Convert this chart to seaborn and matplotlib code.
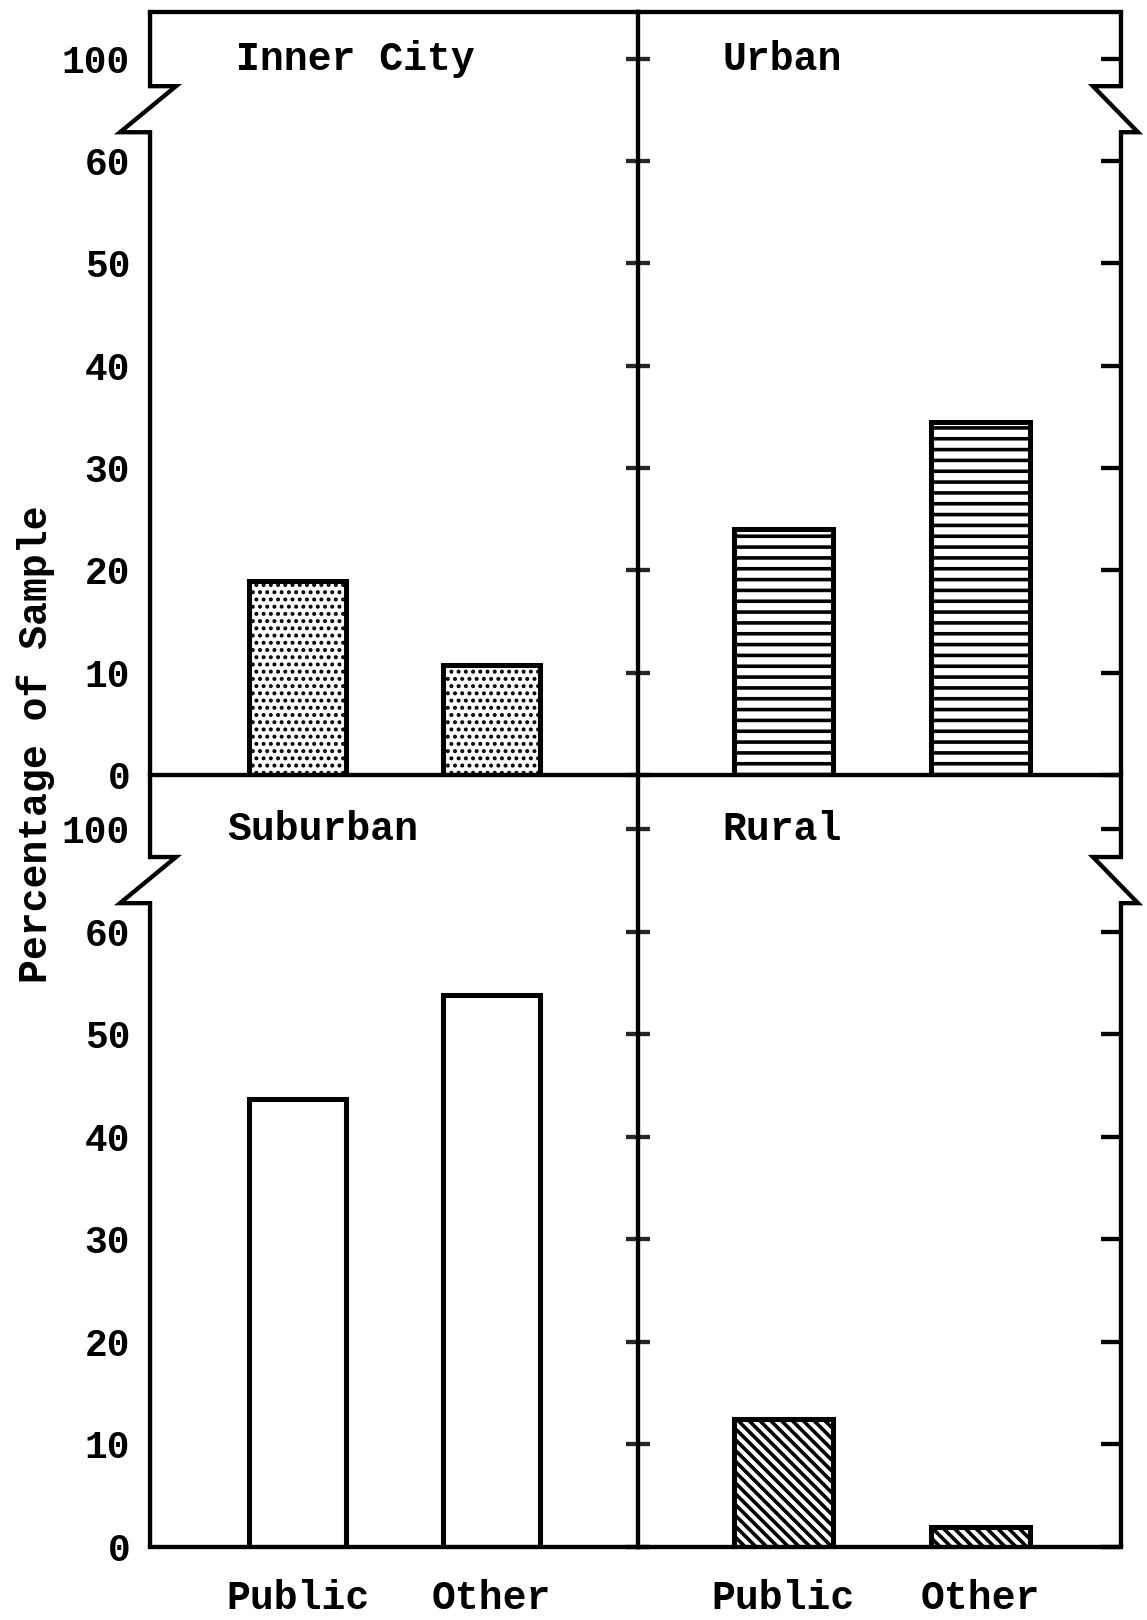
# Import libraries
import pandas as pd
import matplotlib.pyplot as plt
import seaborn as sns
from matplotlib.transforms import blended_transform_factory

# Percentage of sample by type of school, per area
categories = ['Public', 'Other']
inner_city = [19.0, 10.7]
urban = [24.0, 34.5]
suburban = [43.7, 53.8]
rural = [12.5, 1.9]

titles = ['Inner City', 'Urban', 'Suburban', 'Rural']

# broken y axis: the 100 tick sits where 70 would be
ytick_pos = [0, 10, 20, 30, 40, 50, 60, 70]
ytick_labels = ['0', '10', '20', '30', '40', '50', '60', '100']

sns.set_style('white')
plt.rcParams['font.family'] = ['Liberation Mono', 'DejaVu Sans Mono']
plt.rcParams['font.weight'] = 'bold'
plt.rcParams['hatch.linewidth'] = 2.0
plt.rcParams['text.color'] = 'black'

DPI = 130
fig = plt.figure(figsize=(1147 / DPI, 1620 / DPI), dpi=DPI)

# axes boxes (left, bottom, width, height)
ax_ic = fig.add_axes([0.1308, 0.5216, 0.4251, 0.4707])
ax_ur = fig.add_axes([0.5559, 0.5216, 0.4214, 0.4707])
ax_su = fig.add_axes([0.1308, 0.0451, 0.4251, 0.4765])
ax_ru = fig.add_axes([0.5559, 0.0451, 0.4214, 0.4765])

panels = [
    (ax_ic, inner_city, '...', titles[0], 'left', 'top'),
    (ax_ur, urban, '--', titles[1], 'right', 'top'),
    (ax_su, suburban, '', titles[2], 'left', 'bottom'),
    (ax_ru, rural, '\\\\\\\\', titles[3], 'right', 'bottom'),
]

LW = 2.4


def draw_break(ax, side):
    # axis line with a zigzag break between 60 and 100
    tr = blended_transform_factory(ax.transAxes, ax.transData)
    top = ax.get_ylim()[1]
    w_px = ax.get_position().width * fig.get_figwidth() * DPI
    if side == 'left':
        lo, hi = -30 / w_px, 26 / w_px
        xs = [0, 0, lo, hi, 0, 0]
    else:
        lo, hi = 17 / w_px, -28 / w_px
        xs = [1, 1, 1 + lo, 1 + hi, 1, 1]
    ys = [0, 62.8, 62.8, 67.3, 67.3, top]
    ax.plot(xs, ys, color='black', lw=LW, transform=tr, clip_on=False,
            solid_joinstyle='miter', solid_capstyle='butt')


for ax, values, hatch, title, col, row in panels:
    # transparent background so panels don't cover each other's frame lines
    ax.patch.set_visible(False)

    sns.barplot(x=categories, y=values, ax=ax, color='white', edgecolor='black',
                linewidth=2.8, width=0.5, saturation=1)
    for bar in ax.patches:
        bar.set_hatch(hatch)
        if hatch == '...' and hasattr(bar, 'set_hatch_linewidth'):
            bar.set_hatch_linewidth(1.4)

    if row == 'top':
        ax.set_ylim(0, 74.5)
    else:
        ax.set_ylim(0, 75.3)
    if col == 'left':
        ax.set_xlim(-0.763, 1.757)
    else:
        ax.set_xlim(-0.738, 1.712)

    ax.set_xlabel('')
    ax.set_ylabel('')
    ax.set_yticks(ytick_pos)

    for s in ax.spines.values():
        s.set_color('black')
        s.set_linewidth(LW)
    ax.spines['left'].set_visible(False)
    ax.spines['right'].set_visible(False)
    if row == 'bottom':
        ax.spines['top'].set_visible(False)

    if col == 'left':
        ax.set_yticklabels(ytick_labels)
        ax.tick_params(axis='y', direction='in', length=9, width=2.4,
                       labelsize=21, pad=11, colors='black')
        # middle line with crossing ticks
        sec = ax.secondary_yaxis('right')
        sec.set_yticks(ytick_pos)
        sec.tick_params(direction='inout', length=13, width=2.4, labelright=False)
        sec.spines['right'].set_linewidth(LW)
        sec.spines['right'].set_color('black')
        draw_break(ax, 'left')
    else:
        ax.yaxis.tick_right()
        ax.tick_params(axis='y', direction='in', length=11, width=2.4,
                       labelright=False, colors='black')
        draw_break(ax, 'right')

    if row == 'top':
        ax.tick_params(axis='x', length=0, labelbottom=False)
    else:
        ax.tick_params(axis='x', length=0, labelsize=22, pad=18, colors='black')

    # panel title
    tr = blended_transform_factory(ax.transAxes, ax.transData)
    tx = 0.176 if title != 'Suburban' else 0.158
    ax.text(tx, 70, title, transform=tr, ha='left', va='center', fontsize=22)

fig.text(36 / 1147, 1 - 744 / 1620, 'Percentage of Sample', rotation=90,
         ha='center', va='center', fontsize=22)

plt.savefig('out.png', dpi=DPI)
